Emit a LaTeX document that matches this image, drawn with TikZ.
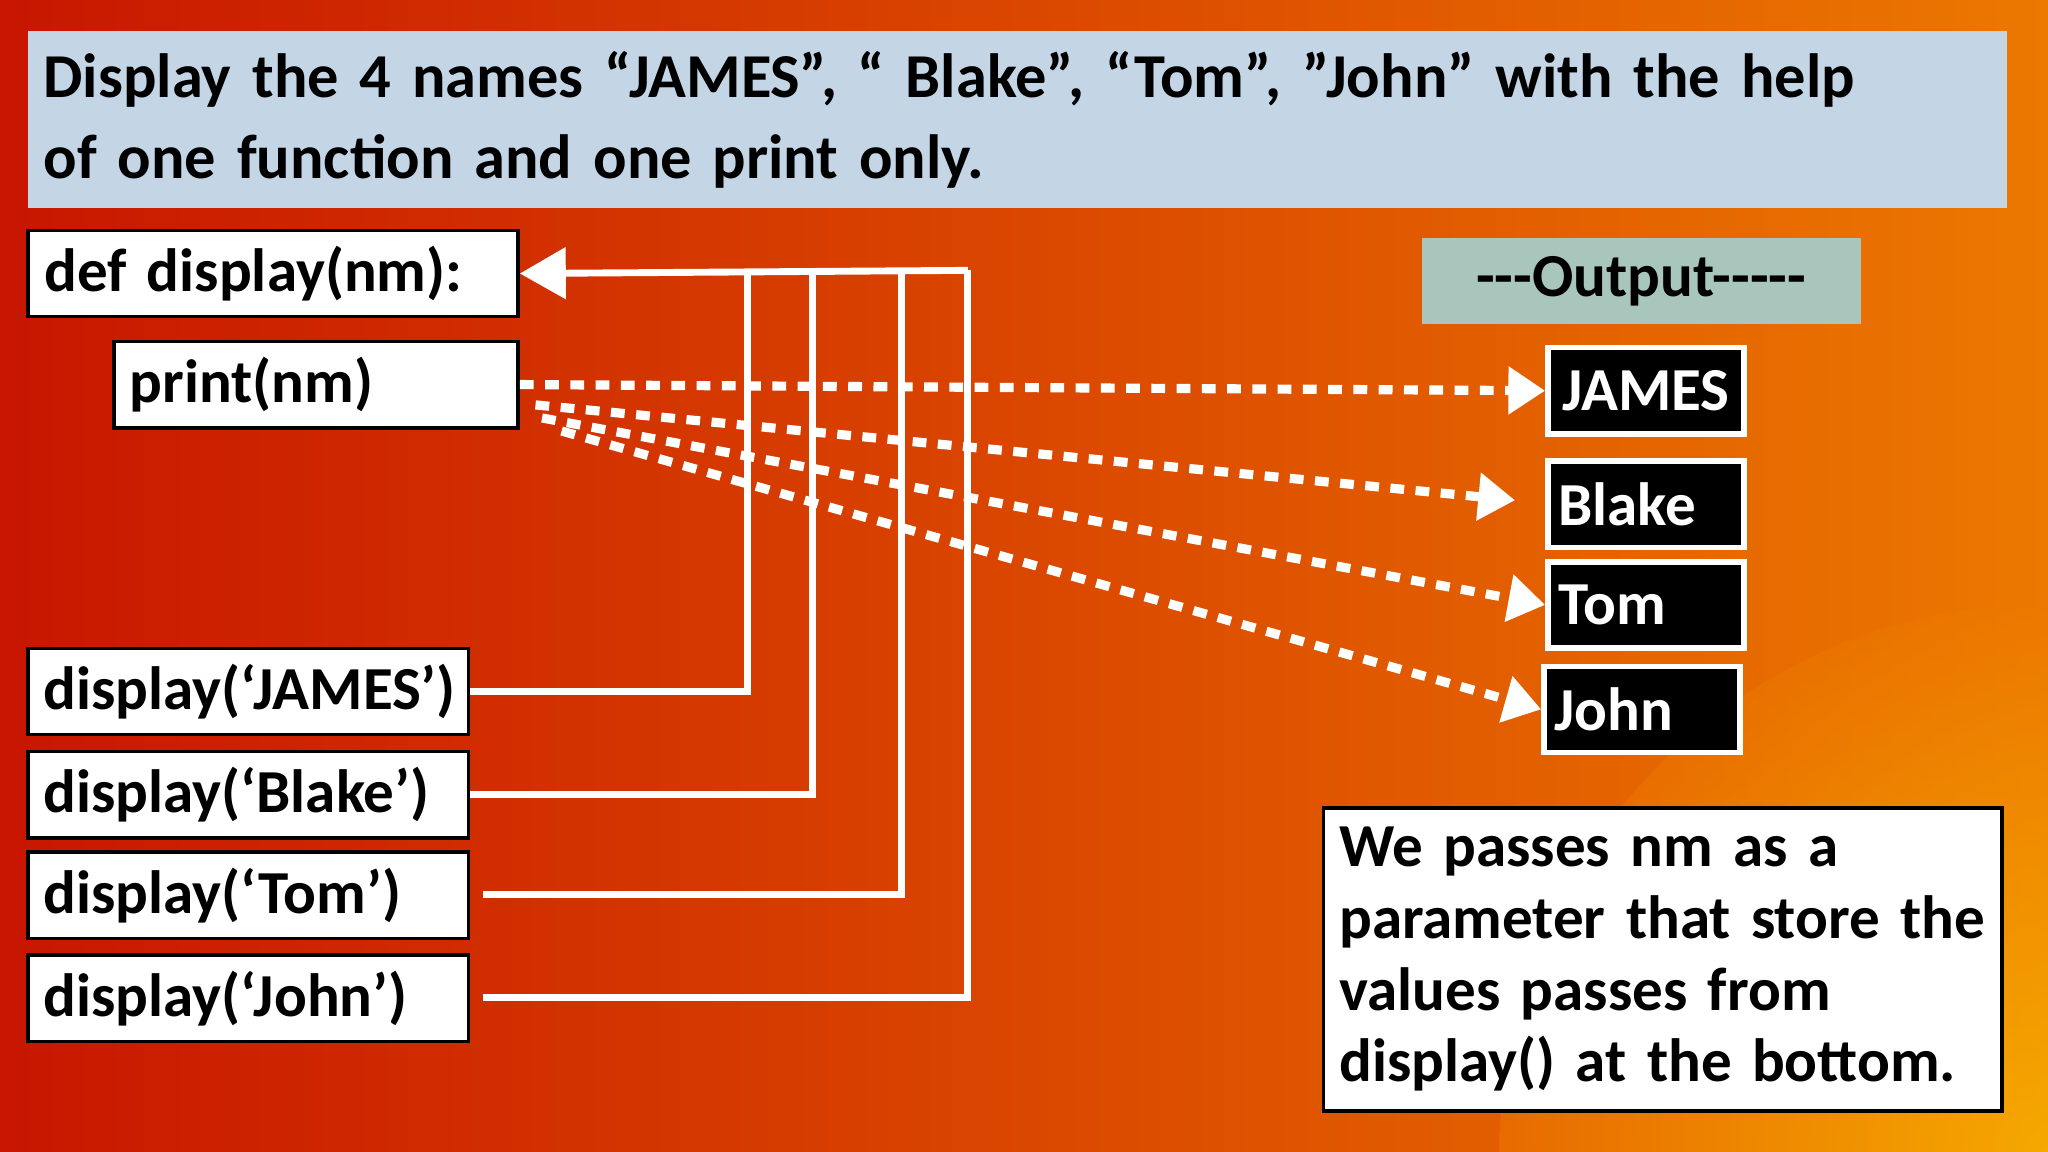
\documentclass[tikz,border=0pt]{standalone}
\usepackage{fontspec}
\setmainfont{Carlito}
\usetikzlibrary{arrows.meta,positioning}
\definecolor{titleblue}{RGB}{196,214,230}
\definecolor{outgreen}{RGB}{168,198,188}
\definecolor{bgred}{RGB}{200,22,0}
\definecolor{bgorange}{RGB}{236,120,0}
\tikzset{codebox/.style={draw=black,fill=white,thick,anchor=north west,minimum height=0.66cm,inner xsep=0.12cm,font=\fontsize{13.3}{16}\selectfont\bfseries},
    namebox/.style={draw=white,fill=black,text=white,line width=1.2pt,anchor=north west,minimum height=0.66cm,minimum width=1.5cm,inner xsep=0.08cm,font=\fontsize{13.3}{16}\selectfont\bfseries},
    callline/.style={white,line width=1.5pt},
    dotarrow/.style={white,line width=2pt,dash pattern=on 3pt off 2.5pt,-{Triangle[length=8pt,width=10pt]}}}
\begin{document}
\begin{tikzpicture}[x=0.01cm,y=-0.01cm]
\useasboundingbox (0,0) rectangle (1568,882);
\shade[left color=bgred,right color=bgorange] (0,0) rectangle (1568,882);
\begin{scope}
\clip (0,0) rectangle (1568,882);
\shade[inner color=yellow!70!orange,outer color=bgorange,opacity=0.5] (1568,882) circle (420);
\end{scope}

% question
\node (title) [codebox,draw=none,fill=titleblue,minimum width=15.1cm,minimum height=1.36cm,text width=14.9cm,align=left,font=\fontsize{13.6}{17.6}\selectfont\bfseries] at (20,22) {Display the 4 names “JAMES”, “ Blake”, “Tom”, ”John” with the help\\of one function and one print only.};

% code
\node (def) [codebox,minimum width=3.75cm,align=left,text width=3.5cm] at (20,175) {def display(nm):};
\node (prt) [codebox,minimum width=3.09cm,align=left,text width=2.85cm] at (86,260) {print(nm)};
\node (c1) [codebox,minimum width=3.37cm,align=left,text width=3.13cm] at (20,495) {display(‘JAMES’)};
\node (c2) [codebox,minimum width=3.37cm,align=left,text width=3.13cm] at (20,574) {display(‘Blake’)};
\node (c3) [codebox,minimum width=3.37cm,align=left,text width=3.13cm] at (20,651) {display(‘Tom’)};
\node (c4) [codebox,minimum width=3.37cm,align=left,text width=3.13cm] at (20,730) {display(‘John’)};

% output
\node (out) [codebox,draw=none,fill=outgreen,minimum width=3.36cm] at (1087,181) {{-}{-}{-}Output{-}{-}{-}{-}{-}};
\node (o1) [namebox] at (1183,264) {JAMES};
\node (o2) [namebox,align=left,text width=1.34cm] at (1183,351) {Blake};
\node (o3) [namebox,align=left,text width=1.34cm] at (1183,428) {Tom};
\node (o4) [namebox,align=left,text width=1.34cm] at (1180,508) {John};

\node (note) [codebox,minimum width=5.19cm,minimum height=2.32cm,text width=4.95cm,align=left,font=\fontsize{13.3}{15.6}\selectfont\bfseries] at (1012,617) {We passes nm as a\\parameter that store the\\values passes from\\display() at the bottom.};

% calls
\coordinate (top) at (741,207);
\draw [callline] (c1.east) -| (572,207);
\draw [callline] (c2.east) -| (622,207);
\draw [callline] (370,685) -| (690,207);
\draw [callline] (370,764) -| (top);
\draw [callline,-{Triangle[length=10pt,width=11pt]}] (top) -- (def.east);

% prints
\draw [dotarrow] (prt.east) -- (o1.west);
\draw [dotarrow] (410,310) -- (1160,383);
\draw [dotarrow] (415,320) -- (o3.west);
\draw [dotarrow] (430,330) -- (o4.west);
\end{tikzpicture}
\end{document}
